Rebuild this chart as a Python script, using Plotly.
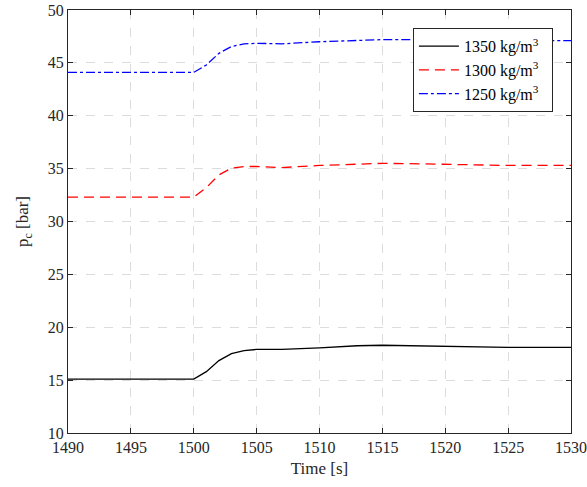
import plotly.graph_objects as go

time = [1490, 1495, 1499, 1500, 1501, 1502, 1503, 1504, 1505, 1507, 1510, 1513, 1515, 1518, 1520, 1525, 1530]
p1350 = [15.1, 15.1, 15.1, 15.1, 15.8, 16.85, 17.5, 17.8, 17.9, 17.9, 18.05, 18.25, 18.3, 18.25, 18.2, 18.1, 18.1]
p1300 = [32.3, 32.3, 32.3, 32.3, 33.2, 34.4, 35.05, 35.2, 35.2, 35.1, 35.3, 35.45, 35.5, 35.45, 35.4, 35.3, 35.3]
p1250 = [44.1, 44.1, 44.1, 44.1, 44.8, 45.9, 46.55, 46.8, 46.85, 46.8, 47.0, 47.15, 47.2, 47.2, 47.15, 47.1, 47.1]
names = ["1350 kg/m<sup>3</sup>&nbsp;&nbsp;", "1300 kg/m<sup>3</sup>&nbsp;&nbsp;", "1250 kg/m<sup>3</sup>&nbsp;&nbsp;"]
xticks = list(range(1490, 1531, 5))
yticks = list(range(10, 51, 5))

font = "Liberation Serif, Times New Roman, serif"
fig = go.Figure()
fig.add_trace(go.Scatter(x=time, y=p1350, mode="lines", name=names[0],
                         line=dict(color="black", width=1.3)))
fig.add_trace(go.Scatter(x=time, y=p1300, mode="lines", name=names[1],
                         line=dict(color="red", width=1.3, dash="10px,6px")))
fig.add_trace(go.Scatter(x=time, y=p1250, mode="lines", name=names[2],
                         line=dict(color="blue", width=1.3, dash="dashdot")))

axcommon = dict(showline=True, linecolor="#262626", linewidth=1, mirror="ticks",
                ticks="inside", ticklen=5, tickcolor="#262626", automargin=False,
                ticklabeloverflow="allow",
                showgrid=True, gridcolor="#dcdcdc", griddash="dash", gridwidth=1,
                zeroline=False, tickfont=dict(family=font, size=16, color="#262626"))
fig.update_xaxes(range=[1490, 1530], tickvals=xticks, **axcommon,
                 title=dict(text="Time [s]", font=dict(family=font, size=17, color="#262626"), standoff=6))
fig.update_yaxes(range=[10, 50], tickvals=yticks, **axcommon,
                 title=dict(text="p<sub>c</sub> [bar]", font=dict(family=font, size=17, color="#262626"), standoff=14))
fig.update_layout(width=587, height=487, margin=dict(l=68, r=16, t=10, b=54),
                  plot_bgcolor="white", paper_bgcolor="white",
                  font=dict(family=font, color="#262626"),
                  legend=dict(x=0.964, y=0.957, xanchor="right", yanchor="top",
                              bgcolor="white", bordercolor="#262626", borderwidth=1,
                              font=dict(family=font, size=16, color="black"),
                              tracegroupgap=0, itemwidth=40))
fig.write_html("out.html", config={"displayModeBar": False},
               post_script="document.body.style.margin='0';document.body.style.overflow='hidden';")
